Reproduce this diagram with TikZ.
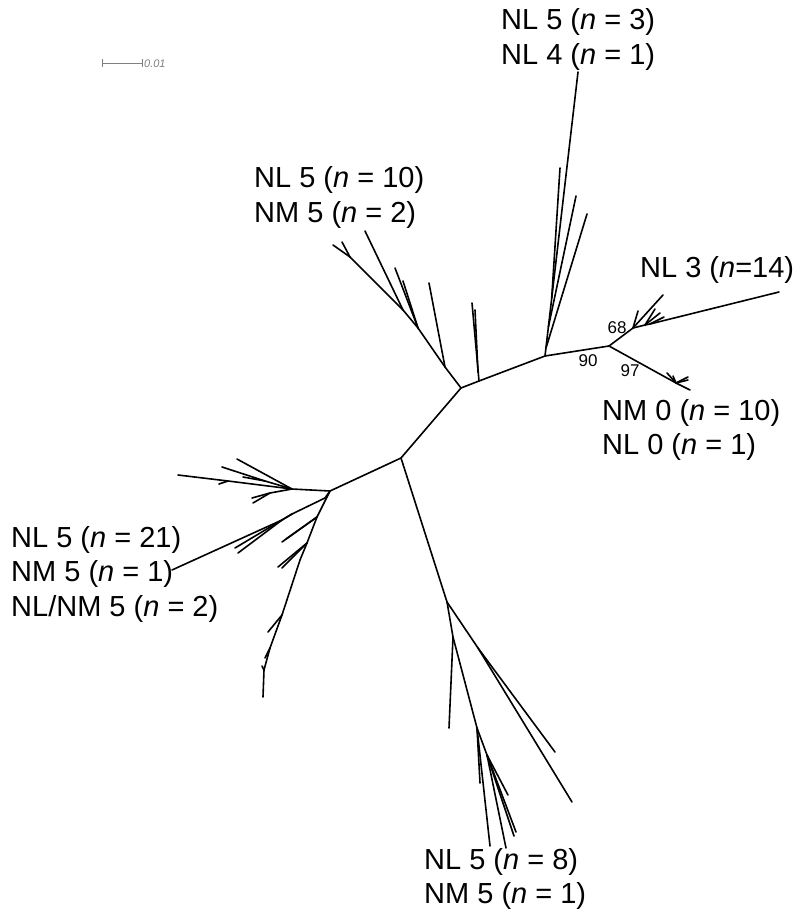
\documentclass[tikz,border=0pt]{standalone}
\usepackage{fontspec}
\setmainfont{Liberation Sans}
\begin{document}
\begin{tikzpicture}[x=1pt,y=-1pt,
  branch/.style={line width=1.6pt,line cap=round,line join=round,black},
  lbl/.style={anchor=west,inner sep=0pt,align=left,font=\fontsize{29}{34.5}\selectfont},
  boot/.style={inner sep=0pt,font=\fontsize{17}{17}\selectfont},
  scalebar/.style={line width=0.8pt,gray}]
\useasboundingbox (0,0) rectangle (794,915);

% scale bar
\coordinate (s1) at (102,63);
\coordinate (s2) at (142,63);
\draw[scalebar] (s1) -- (s2);
\draw[scalebar] ([yshift=-4pt]s1) -- ([yshift=4pt]s1);
\draw[scalebar] ([yshift=-4pt]s2) -- ([yshift=4pt]s2);
\node[anchor=west,inner sep=0pt,gray,font=\fontsize{11}{11}\selectfont\itshape] (sl) at (144,64) {0.01};

% backbone
\coordinate (A) at (401,458);
\coordinate (B) at (461,388);
\coordinate (U1) at (479,381);
\coordinate (U2) at (545,356);
\coordinate (R) at (609,346);
\coordinate (C) at (330,491);
\draw[branch] (C) -- (A) -- (B) -- (U1) -- (U2) -- (R);

% short pair above the backbone
\coordinate (u1a) at (472,303);
\coordinate (u1b) at (475,310);
\coordinate (u1c) at (478,372);
\draw[branch] (U1) -- (u1a);
\draw[branch] (u1c) -- (u1b);

% top clade
\coordinate (T0) at (578,72);
\coordinate (T1) at (551.7,298);
\coordinate (T2) at (548.4,327);
\coordinate (T3) at (546,348);
\draw[branch] (U2) -- (T0);
\draw[branch] (T1) -- (560,168) coordinate (t1);
\draw[branch] (T2) -- (576,196) coordinate (t2);
\draw[branch] (T3) -- (587,214) coordinate (t3);

% upper-left clade
\coordinate (Q1) at (445,367);
\coordinate (Q2) at (418,328);
\coordinate (Q3) at (403,310);
\coordinate (P) at (350,257);
\draw[branch] (B) -- (Q1) -- (Q2) -- (Q3) -- (P);
\draw[branch] (P) -- (333,245) coordinate (p1);
\draw[branch] (P) -- (342,242) coordinate (p2);
\draw[branch] (Q1) -- (429,283) coordinate (q1);
\draw[branch] (Q2) -- (395,268) coordinate (q2);
\draw[branch] (Q2) -- (403,281) coordinate (q2b);
\draw[branch] (Q3) -- (365,231) coordinate (q3);

% right clade
\coordinate (G) at (633,328);
\coordinate (G2) at (645,325);
\coordinate (G3) at (650,324);
\draw[branch] (R) -- (G) -- (G2) -- (G3) -- (779,292) coordinate (g0);
\draw[branch] (G) -- (663,295) coordinate (g1);
\draw[branch] (G) -- (638,311) coordinate (g2);
\draw[branch] (G2) -- (655,309) coordinate (g3);
\draw[branch] (G2) -- (660,313) coordinate (g4);
\draw[branch] (G3) -- (664,317) coordinate (g5);

\coordinate (H) at (676,383);
\draw[branch] (R) -- (H) -- (690,390) coordinate (h0);
\draw[branch] (H) -- (667,373) coordinate (h1);
\draw[branch] (H) -- (673,376) coordinate (h2);
\draw[branch] (H) -- (688,377) coordinate (h3);
\draw[branch] (H) -- (688,380) coordinate (h4);

% left clade, upper fan
\coordinate (D) at (292,489);
\coordinate (Da) at (265,481);
\coordinate (Db) at (270,493);
\coordinate (Dc) at (228,481);
\draw[branch] (C) -- (D);
\draw[branch] (D) -- (Dc) -- (178,475) coordinate (d1);
\draw[branch] (Dc) -- (219,484) coordinate (d1b);
\draw[branch] (D) -- (Da) -- (222,467) coordinate (d2);
\draw[branch] (Da) -- (243,477) coordinate (d2b);
\draw[branch] (D) -- (237,459) coordinate (d3);
\draw[branch] (D) -- (Db) -- (252,498) coordinate (d4);
\draw[branch] (Db) -- (253,503) coordinate (d5);

% left clade, long tip and its side branches
\coordinate (F) at (325,498);
\coordinate (Fa) at (292,514);
\coordinate (Fb) at (282,520);
\draw[branch] (C) -- (F) -- (Fa) -- (Fb) -- (172,570) coordinate (f0);
\draw[branch] (Fa) -- (235,548) coordinate (f1);
\draw[branch] (Fb) -- (238,553) coordinate (f2);

% left clade, descending branch
\coordinate (M1) at (317,517);
\coordinate (M2) at (307,543);
\coordinate (M3) at (300,560);
\coordinate (M4) at (282,615);
\coordinate (M5) at (270,648);
\coordinate (M6) at (264,670);
\draw[branch] (C) -- (M1) -- (M2) -- (M3) -- (M4) -- (M5) -- (M6) -- (263,697) coordinate (m0);
\draw[branch] (M1) -- (282,542) coordinate (m1);
\draw[branch] (M1) -- (286,539) coordinate (m1b);
\draw[branch] (M2) -- (278,567) coordinate (m2);
\draw[branch] (M2) -- (282,568) coordinate (m2b);
\draw[branch] (M4) -- (268,632) coordinate (m4);
\draw[branch] (M5) -- (265,658) coordinate (m5);
\draw[branch] (M6) -- (262,666) coordinate (m6);

% bottom clade
\coordinate (N1) at (447,602);
\coordinate (N2) at (453,637);
\coordinate (N3) at (477,728);
\coordinate (N4) at (487,755);
\coordinate (N5) at (478,648);
\draw[branch] (A) -- (N1) -- (N2) -- (N3) -- (490,846) coordinate (n1);
\draw[branch] (N2) -- (449,728) coordinate (n2);
\draw[branch] (N3) -- (480,783) coordinate (n3);
\draw[branch] (N3) -- (N4) -- (506,848) coordinate (n4);
\draw[branch] (N4) -- (508,795) coordinate (n5);
\draw[branch] (N4) -- (514,836) coordinate (n6);
\draw[branch] (N4) -- (516,832) coordinate (n7);
\draw[branch] (N1) -- (N5) -- (555,752) coordinate (n8);
\draw[branch] (N5) -- (572,802) coordinate (n9);

% bootstrap values
\node[boot] (b68) at (617,328) {68};
\node[boot] (b90) at (588,361) {90};
\node[boot] (b97) at (630,371) {97};

% clade labels
\node[lbl] (labtop) at (501,39.5) {NL 5 (\textit{n} = 3)\\NL 4 (\textit{n} = 1)};
\node[lbl] (labul) at (254,197.5) {NL 5 (\textit{n} = 10)\\NM 5 (\textit{n} = 2)};
\node[lbl] (labr) at (640,270) {NL 3 (\textit{n}=14)};
\node[lbl] (labnm) at (602,430) {NM 0 (\textit{n} = 10)\\NL 0 (\textit{n} = 1)};
\node[lbl] (lableft) at (11,574) {NL 5 (\textit{n} = 21)\\NM 5 (\textit{n} = 1)\\NL/NM 5 (\textit{n} = 2)};
\node[lbl] (labbot) at (424,879) {NL 5 (\textit{n} = 8)\\NM 5 (\textit{n} = 1)};
\end{tikzpicture}
\end{document}
